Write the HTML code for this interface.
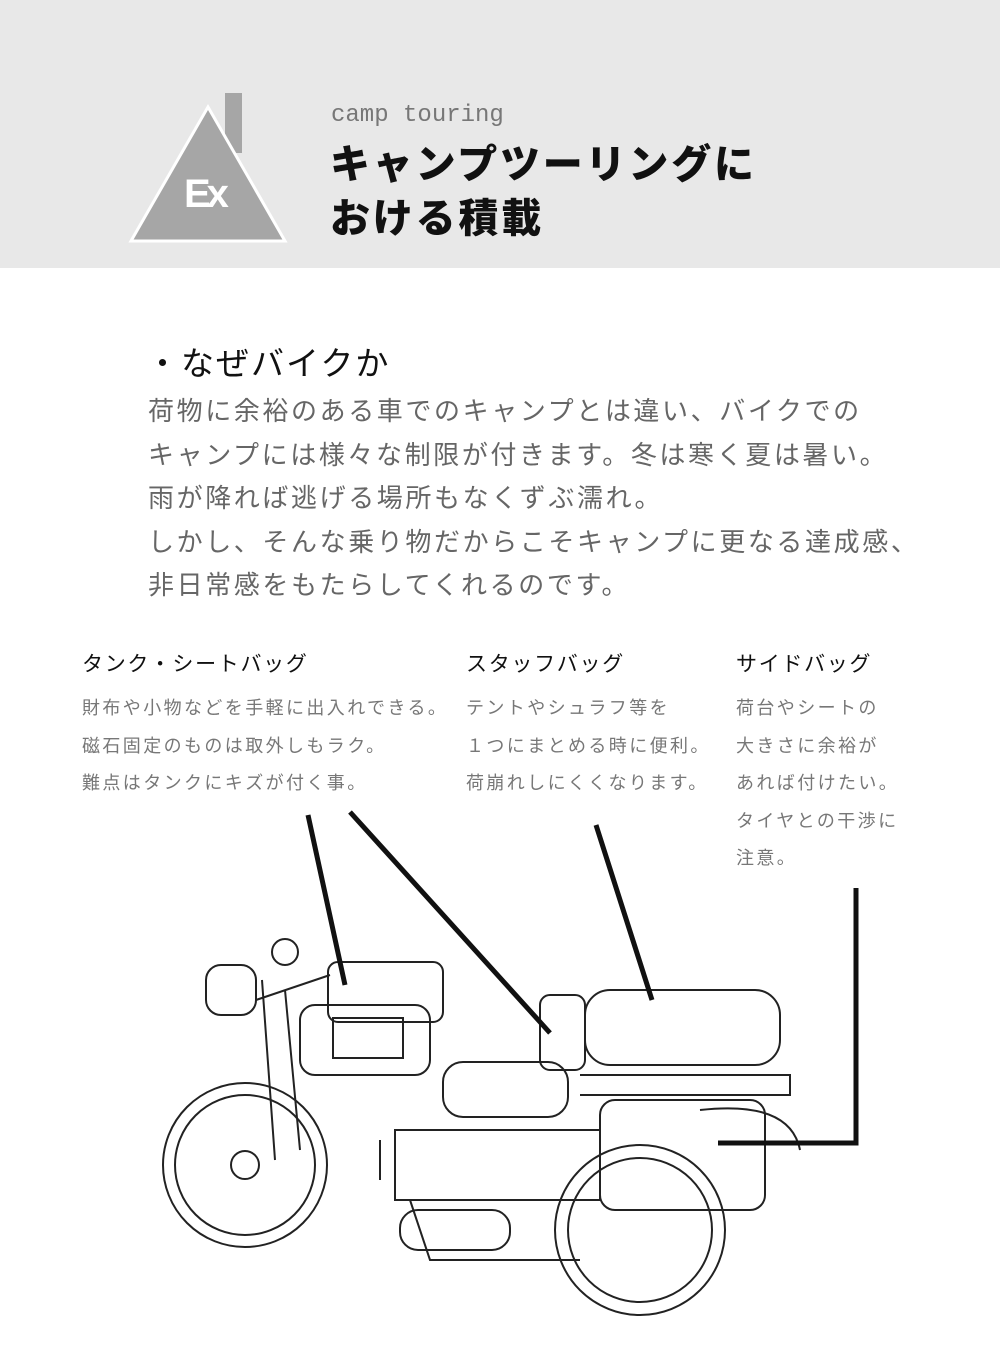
<!DOCTYPE html>
<html><head><meta charset="utf-8"><style>
body{margin:0;width:1000px;height:1371px;background:#fff;position:relative;overflow:hidden;font-family:"Liberation Sans","Noto Sans CJK JP",sans-serif}
.hdr{position:absolute;left:0;top:0;width:1000px;height:268px;background:#e8e8e8}
.t{position:absolute;white-space:nowrap}
</style></head><body>
<div class="hdr"></div>
<svg style="position:absolute;left:0;top:0" width="1000" height="270">
<rect x="225" y="93" width="17" height="60" fill="#a6a6a6"/>
<polygon points="208,107 131,241 285,241" fill="#a6a6a6" stroke="#fff" stroke-width="3"/>
<text x="184" y="207" font-family="Liberation Sans" font-weight="bold" font-size="40" fill="#fff" letter-spacing="-4">Ex</text>
</svg>
<div class="t" style="left:331px;top:102px;font-family:'Liberation Mono',monospace;font-size:24px;color:#777">camp touring</div>
<div class="t" style="left:330px;top:138px;font-size:40px;font-weight:900;line-height:54px;color:#111;letter-spacing:2.8px">キャンプツーリングに<br>おける積載</div>
<div class="t" style="left:146px;top:337px;font-size:33px;color:#111;letter-spacing:2px">・なぜバイクか</div>
<div class="t" style="left:148px;top:390px;font-size:26px;line-height:43.5px;color:#666;letter-spacing:2.6px">荷物に余裕のある車でのキャンプとは違い、バイクでの<br>キャンプには様々な制限が付きます。冬は寒く夏は暑い。<br>雨が降れば逃げる場所もなくずぶ濡れ。<br>しかし、そんな乗り物だからこそキャンプに更なる達成感、<br>非日常感をもたらしてくれるのです。</div>
<div class="t" style="left:82px;top:648px;font-size:21px;color:#111;letter-spacing:1.7px">タンク・シートバッグ</div>
<div class="t" style="left:466px;top:648px;font-size:21px;color:#111;letter-spacing:1.7px">スタッフバッグ</div>
<div class="t" style="left:736px;top:648px;font-size:21px;color:#111;letter-spacing:1.7px">サイドバッグ</div>
<div class="t" style="left:82px;top:690px;font-size:18px;line-height:37.5px;color:#777;letter-spacing:2.4px">財布や小物などを手軽に出入れできる。<br>磁石固定のものは取外しもラク。<br>難点はタンクにキズが付く事。</div>
<div class="t" style="left:466px;top:690px;font-size:18px;line-height:37.5px;color:#777;letter-spacing:2.4px">テントやシュラフ等を<br>１つにまとめる時に便利。<br>荷崩れしにくくなります。</div>
<div class="t" style="left:736px;top:690px;font-size:18px;line-height:37.5px;color:#777;letter-spacing:2.4px">荷台やシートの<br>大きさに余裕が<br>あれば付けたい。<br>タイヤとの干渉に<br>注意。</div>
<svg style="position:absolute;left:0;top:0" width="1000" height="1371" fill="none" stroke="#222" stroke-width="2">
<circle cx="245" cy="1165" r="82"/><circle cx="245" cy="1165" r="70"/><circle cx="245" cy="1165" r="14"/>
<circle cx="640" cy="1230" r="85"/><circle cx="640" cy="1230" r="72"/>
<rect x="206" y="965" width="50" height="50" rx="15"/>
<circle cx="285" cy="952" r="13"/>
<path d="M262 980 L275 1160 M285 990 L300 1150 M256 1000 L330 975"/>
<rect x="328" y="962" width="115" height="60" rx="10"/>
<rect x="300" y="1005" width="130" height="70" rx="15"/><rect x="333" y="1018" width="70" height="40"/>
<rect x="443" y="1062" width="125" height="55" rx="20"/>
<rect x="540" y="995" width="45" height="75" rx="10"/>
<rect x="585" y="990" width="195" height="75" rx="25"/>
<path d="M580 1075 L790 1075 L790 1095 L580 1095"/>
<rect x="600" y="1100" width="165" height="110" rx="15"/>
<path d="M395 1130 L600 1130 L600 1200 L395 1200 Z M410 1200 L430 1260 L580 1260"/>
<rect x="400" y="1210" width="110" height="40" rx="18"/>
<path d="M380 1140 L380 1180 M700 1110 Q790 1100 800 1150"/>
</svg>
<svg style="position:absolute;left:0;top:0" width="1000" height="1371" fill="none" stroke="#111" stroke-width="5">
<path d="M308 815 L345 985 M350 812 L550 1033 M596 825 L652 1000 M856 888 L856 1143 L718 1143"/>
</svg>
</body></html>
